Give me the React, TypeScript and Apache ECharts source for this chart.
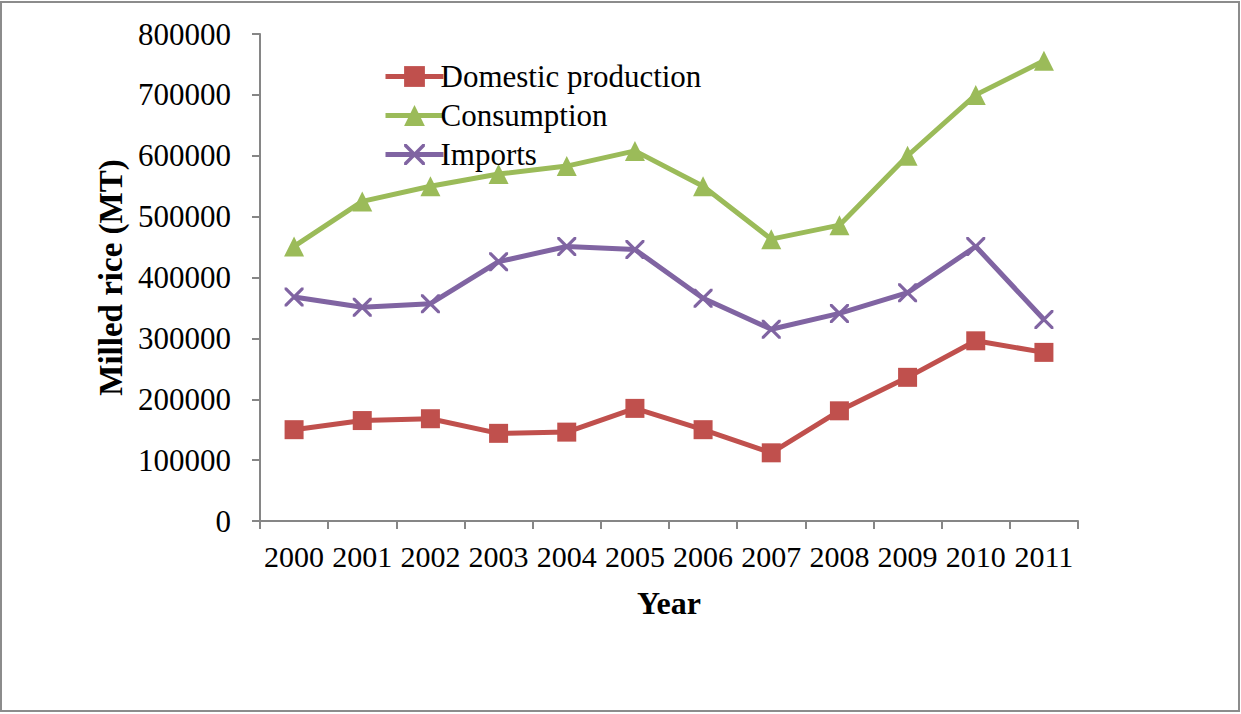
import React, { useEffect, useRef } from "react";
import * as echarts from "echarts";

const years = ["2000", "2001", "2002", "2003", "2004", "2005", "2006", "2007", "2008", "2009", "2010", "2011"];
const domesticProduction = [150000, 165000, 168000, 144000, 146000, 185000, 150000, 112000, 181000, 236000, 296000, 277000];
const consumption = [451000, 525000, 550000, 570000, 583000, 608000, 550000, 463000, 486000, 600000, 700000, 756000];
const imports = [368000, 351000, 357000, 426000, 451000, 446000, 366000, 315000, 341000, 375000, 451000, 331000];

const CROSS = "path://M0,0L1.2,0L10,8.8L10,10L8.8,10L0,1.2ZM8.8,0L10,0L10,1.2L1.2,10L0,10L0,8.8Z";
const FONT = "'Liberation Serif', 'Times New Roman', serif";

export default function App() {
  const ref = useRef<HTMLDivElement>(null);
  useEffect(() => {
    if (!ref.current) return;
    const chart = echarts.init(ref.current, undefined, { renderer: "svg" });
    const lineSeries = (name: string, data: number[], color: string, symbol: string, size: number) => ({
      name,
      type: "line",
      data,
      symbol,
      symbolSize: size,
      showAllSymbol: true,
      lineStyle: { color, width: 5 },
      itemStyle: { color, borderWidth: 0 },
    });
    chart.setOption({
      animation: false,
      backgroundColor: "#ffffff",
      textStyle: { fontFamily: FONT },
      graphic: [
        {
          type: "rect",
          shape: { x: 1, y: 2, width: 1238, height: 709 },
          style: { fill: "none", stroke: "#8c8c8c", lineWidth: 2 },
          silent: true,
        },
      ],
      grid: { left: 260, right: 163, top: 34, bottom: 193, containLabel: false },
      legend: {
        left: 378,
        top: 56,
        orient: "vertical",
        itemWidth: 58,
        itemHeight: 26,
        itemGap: 8,
        lineStyle: { width: 5 },
        textStyle: { fontFamily: FONT, fontSize: 31, color: "#000", padding: [0, 0, 0, -8] },
        data: ["Domestic production", "Consumption", "Imports"],
      },
      xAxis: {
        type: "category",
        data: years,
        boundaryGap: true,
        name: "Year",
        nameLocation: "middle",
        nameGap: 66,
        nameTextStyle: { fontFamily: FONT, fontSize: 32, fontWeight: "bold", color: "#000" },
        axisLine: { lineStyle: { color: "#868686", width: 2 } },
        axisTick: { show: true, length: 8, alignWithLabel: false, lineStyle: { color: "#868686", width: 2 } },
        axisLabel: { fontFamily: FONT, fontSize: 30, color: "#000", margin: 20, interval: 0 },
        splitLine: { show: false },
      },
      yAxis: {
        type: "value",
        min: 0,
        max: 800000,
        interval: 100000,
        name: "Milled rice (MT)",
        nameLocation: "middle",
        nameGap: 124,
        nameTextStyle: { fontFamily: FONT, fontSize: 33, fontWeight: "bold", color: "#000" },
        axisLine: { show: true, lineStyle: { color: "#868686", width: 2 } },
        axisTick: { show: true, length: 8, lineStyle: { color: "#868686", width: 2 } },
        axisLabel: { fontFamily: FONT, fontSize: 31, color: "#000", margin: 29, formatter: (v: number) => String(v) },
        splitLine: { show: false },
      },
      series: [
        lineSeries("Domestic production", domesticProduction, "#C0504D", "rect", 19),
        lineSeries("Consumption", consumption, "#9BBB59", "triangle", 20),
        lineSeries("Imports", imports, "#8064A2", CROSS, 19),
      ],
    });
    return () => chart.dispose();
  }, []);
  return (
    <div
      ref={ref}
      style={{ position: "fixed", left: 0, top: 0, width: 1241, height: 714, background: "#fff" }}
    />
  );
}
